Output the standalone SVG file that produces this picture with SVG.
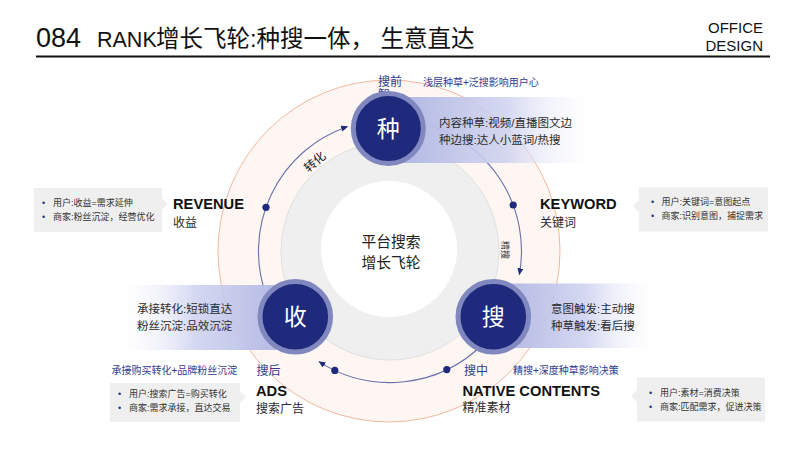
<svg xmlns="http://www.w3.org/2000/svg" width="800" height="450" viewBox="0 0 800 450">
<style>
text{font-family:"Liberation Sans","Noto Sans CJK SC",sans-serif;}
.body{font-size:11.5px;fill:#2b2b2b;}
.small{font-size:9px;fill:#333;}
.bul{font-size:9px;fill:#27337f;}
.navy{fill:#2f3b8f;}
.lab{font-size:14.7px;font-weight:bold;fill:#111;}
.sub{font-size:12px;fill:#2b2b2b;}
.node-c{fill:#1f2a7c;stroke:#8088bf;stroke-width:5;}
.node-t{font-size:23px;fill:#fff;text-anchor:middle;}
.box{fill:#efefef;}
.arc{fill:none;stroke:#6a71ad;stroke-width:1.1;}
.dot{fill:#1f2a7c;}
</style>
<defs>
<linearGradient id="bandR" x1="0" y1="0" x2="1" y2="0">
<stop offset="0" stop-color="#aeb4e2" stop-opacity="1"/>
<stop offset="0.55" stop-color="#cdd1ef" stop-opacity="0.85"/>
<stop offset="1" stop-color="#ffffff" stop-opacity="0"/>
</linearGradient>
<linearGradient id="bandL" x1="1" y1="0" x2="0" y2="0">
<stop offset="0" stop-color="#aeb4e2" stop-opacity="1"/>
<stop offset="0.55" stop-color="#cdd1ef" stop-opacity="0.85"/>
<stop offset="1" stop-color="#ffffff" stop-opacity="0"/>
</linearGradient>
<marker id="arr" markerUnits="userSpaceOnUse" markerWidth="8" markerHeight="8" refX="6" refY="3" orient="auto">
<path d="M0,0 L7,3 L0,6 z" fill="#1f2a7c"/>
</marker>
</defs>
<rect width="800" height="450" fill="#ffffff"/>

<g id="header">
<text y="46.7" fill="#111"><tspan x="36" font-size="27">084</tspan><tspan x="97" font-size="21.5">RANK</tspan><tspan x="156" font-size="23.5">增长飞轮:种搜一体， 生意直达</tspan></text>
<text x="763" y="32.5" font-size="15" text-anchor="end" fill="#111">OFFICE</text>
<text x="763" y="50.5" font-size="15" text-anchor="end" fill="#111">DESIGN</text>
<line x1="36" y1="56.5" x2="770" y2="56.5" stroke="#111" stroke-width="2"/>
</g>

<g id="rings">
<circle cx="389" cy="251" r="171" fill="#fdf6f2" stroke="#f2b89e" stroke-width="1"/>
<circle cx="390" cy="251" r="109" fill="#efefef" stroke="#e0e0e0" stroke-width="1"/>
<circle cx="389" cy="249" r="68" fill="#ffffff"/>
</g>

<g id="center">
<text x="391" y="247.3" font-size="14.8" text-anchor="middle" fill="#222">平台搜索</text>
<text x="391" y="268.3" font-size="14.8" text-anchor="middle" fill="#222">增长飞轮</text>
</g>

<g id="connectors">
<path class="arc" d="M266.4,296 A131.5,131.5 0 0 1 347.2,126.7" marker-end="url(#arr)"/>
<path class="arc" d="M424,124 A131.5,131.5 0 0 1 519.4,274.3" marker-end="url(#arr)"/>
<path class="arc" d="M483,344 A131.5,131.5 0 0 1 319.3,361.9" marker-end="url(#arr)"/>
<circle class="dot" cx="266" cy="207.3" r="3.6"/>
<circle class="dot" cx="513.2" cy="205" r="3.6"/>
<circle class="dot" cx="446.8" cy="369.6" r="3.6"/>
<circle class="dot" cx="334.8" cy="370.4" r="3.6"/>
<text transform="translate(315,162) rotate(-40)" x="0" y="4" font-size="12" text-anchor="middle" fill="#222">转化</text>
<text transform="translate(505,250) rotate(90)" x="0" y="3" font-size="9" text-anchor="middle" fill="#333">精搜</text>
</g>

<g id="node-zhong">
<text x="378" y="85.5" font-size="12" class="navy">搜前</text>
<text x="378" y="99.3" font-size="12" class="navy">智</text>
<text x="423" y="85.7" font-size="10" class="navy">浅层种草+泛搜影响用户心</text>
<rect x="388" y="97" width="215" height="66" fill="url(#bandR)"/>
<circle class="node-c" cx="388.3" cy="128.5" r="35"/>
<text class="node-t" x="388.3" y="136.8">种</text>
<text class="body" x="439" y="126.5">内容种草:视频/直播图文边</text>
<text class="body" x="439" y="144">种边搜:达人小蓝词/热搜</text>
</g>

<g id="node-sou">
<rect x="493" y="283.5" width="170" height="64.5" fill="url(#bandR)"/>
<circle class="node-c" cx="493.3" cy="316.7" r="35.3"/>
<text class="node-t" x="493.3" y="325">搜</text>
<text class="body" x="551" y="312.5">意图触发:主动搜</text>
<text class="body" x="551" y="330">种草触发:看后搜</text>
</g>

<g id="node-shou">
<rect x="113" y="285" width="182" height="65" fill="url(#bandL)"/>
<circle class="node-c" cx="295.3" cy="316.7" r="35.3"/>
<text class="node-t" x="295.3" y="325">收</text>
<text class="body" x="137" y="312.5">承接转化:短锁直达</text>
<text class="body" x="137" y="330">粉丝沉淀:品效沉淀</text>
</g>

<g id="revenue">
<rect class="box" x="34" y="188" width="128" height="44"/>
<path class="box" d="M162,198 L168,204 L162,210 z"/>
<text class="bul" x="42" y="206">•</text>
<text class="small" x="53" y="206">用户:收益=需求延伸</text>
<text class="bul" x="42" y="220">•</text>
<text class="small" x="53" y="220">商家:粉丝沉淀，经营优化</text>
<text class="lab" x="173" y="209">REVENUE</text>
<text class="sub" x="173" y="226.5">收益</text>
</g>

<g id="keyword">
<rect class="box" x="639" y="187.5" width="129" height="44"/>
<path class="box" d="M639,200 L633,206 L639,212 z"/>
<text class="bul" x="651" y="205">•</text>
<text class="small" x="661.5" y="205">用户:关键词=意图起点</text>
<text class="bul" x="651" y="218.5">•</text>
<text class="small" x="661.5" y="218.5">商家:识别意图，捕捉需求</text>
<text class="lab" x="540" y="209">KEYWORD</text>
<text class="sub" x="540" y="226.5">关键词</text>
</g>

<g id="ads">
<text x="111.5" y="374" font-size="10" class="navy">承接购买转化+品牌粉丝沉淀</text>
<text x="256.5" y="375" font-size="12" class="navy">搜后</text>
<rect class="box" x="110" y="383" width="130" height="39"/>
<path class="box" d="M240,391 L246,397 L240,403 z"/>
<text class="bul" x="118" y="397">•</text>
<text class="small" x="129" y="397">用户:搜索广告=购买转化</text>
<text class="bul" x="118" y="410.5">•</text>
<text class="small" x="129" y="410.5">商家:需求承接，直达交易</text>
<text class="lab" x="256" y="396">ADS</text>
<text class="sub" x="256" y="413">搜索广告</text>
</g>

<g id="native">
<text x="464" y="375" font-size="12" class="navy">搜中</text>
<text x="513" y="374" font-size="10" class="navy">精搜+深度种草影响决策</text>
<rect class="box" x="637" y="377.5" width="128" height="44"/>
<path class="box" d="M637,390 L631,396 L637,402 z"/>
<text class="bul" x="649" y="396">•</text>
<text class="small" x="660" y="396">用户:素材=消费决策</text>
<text class="bul" x="649" y="410">•</text>
<text class="small" x="660" y="410">商家:匹配需求，促进决策</text>
<text class="lab" x="462.5" y="396">NATIVE CONTENTS</text>
<text class="sub" x="462.5" y="411.7">精准素材</text>
</g>
</svg>
